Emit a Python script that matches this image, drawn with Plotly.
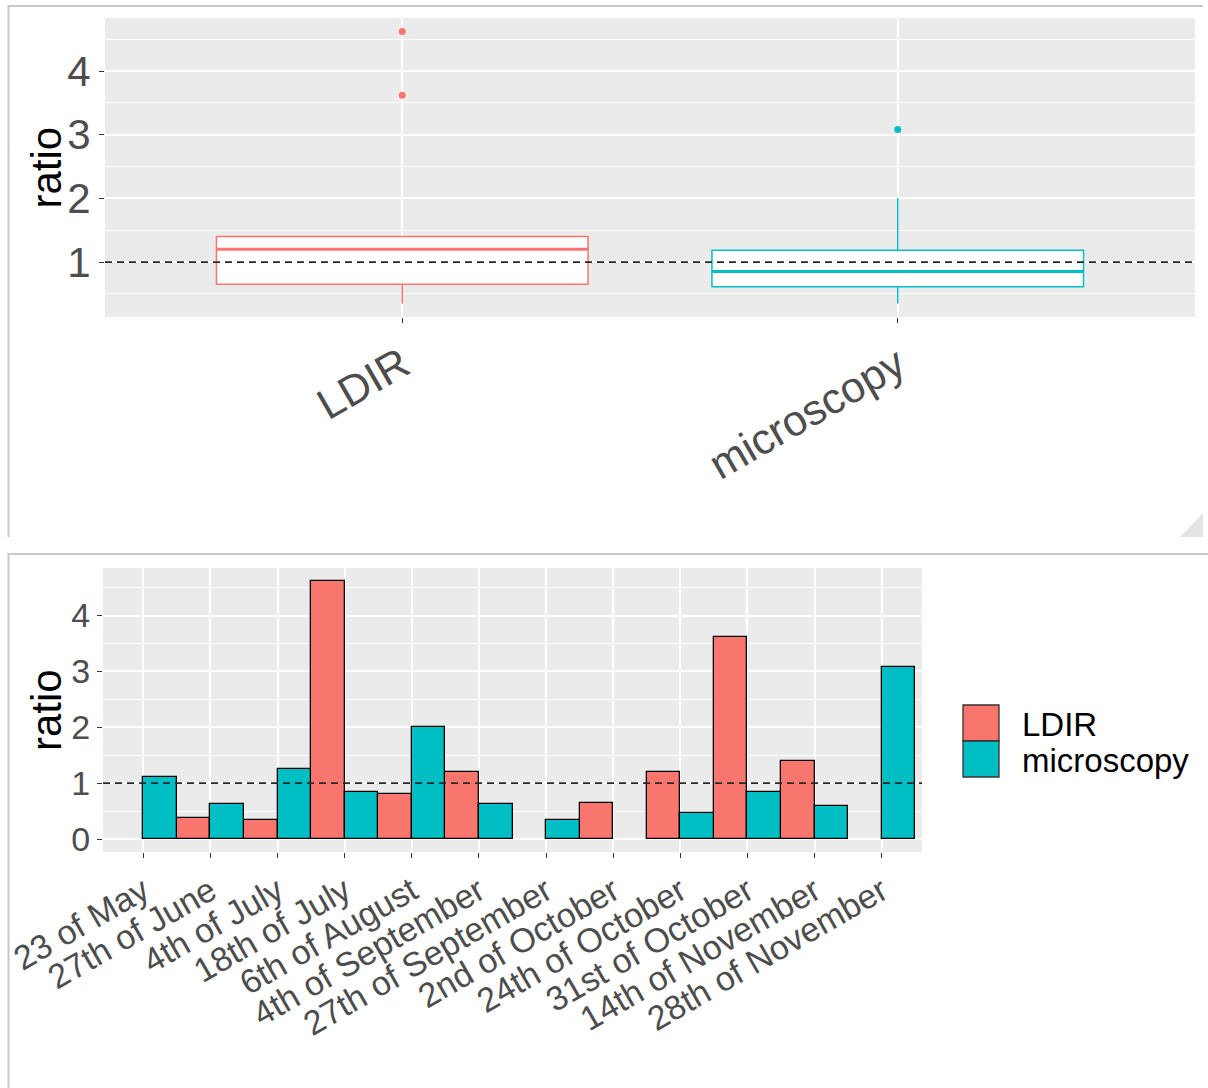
import numpy as np
import plotly.graph_objects as go

# ---- data -------------------------------------------------------------
dates = ["23 of May", "27th of June", "4th of July", "18th of July",
         "6th of August", "4th of September", "27th of September",
         "2nd of October", "24th of October", "31st of October",
         "14th of November", "28th of November"]
ldir = [None, 0.38, 0.35, 4.62, 0.80, 1.20, None, 0.65, 1.20, 3.62, 1.40, None]
microscopy = [1.12, 0.62, 1.25, 0.85, 2.00, 0.62, 0.35, None, 0.47, 0.85, 0.60, 3.08]
methods = ["LDIR", "microscopy"]
reference_ratio = 1

# ---- styling ----------------------------------------------------------
W, H = 1208, 1088
RED, TEAL = "#F8766D", "#00BFC4"
PANEL_BG = "#EBEBEB"
TICK_TXT = "#4D4D4D"
FONT = "Liberation Sans, Arial, sans-serif"


def px_x(p):
    return p / W


def px_y(p):
    return 1 - p / H


def expand(lo, hi, f=0.05):
    d = (hi - lo) * f
    return [lo - d, hi + d]


series = {"LDIR": [v for v in ldir if v is not None],
          "microscopy": [v for v in microscopy if v is not None]}
colors = {"LDIR": RED, "microscopy": TEAL}

fig = go.Figure()

# ---- top panel: box plots --------------------------------------------
for i, m in enumerate(methods):
    fig.add_trace(go.Box(
        y=series[m], x0=i, name=m, width=0.75,
        quartilemethod="inclusive", boxpoints="outliers",
        jitter=0, pointpos=0, whiskerwidth=0,
        fillcolor="white", line=dict(color=colors[m], width=1.5),
        marker=dict(color=colors[m], size=7, line=dict(width=0)),
        xaxis="x", yaxis="y", showlegend=False, hoverinfo="y"))
    # thicker median stroke, as in the usual box-plot look
    med = float(np.median(series[m]))
    fig.add_shape(type="line", xref="x", yref="y", x0=i - 0.375, x1=i + 0.375,
                  y0=med, y1=med, line=dict(color=colors[m], width=3), layer="above")

all_vals = series["LDIR"] + series["microscopy"]
top_range = expand(min(all_vals), max(all_vals))

# ---- bottom panel: grouped bars ---------------------------------------
for m, vals in (("LDIR", ldir), ("microscopy", microscopy)):
    fig.add_trace(go.Bar(
        x=dates, y=vals, name=m, marker=dict(color=colors[m], line=dict(color="black", width=1.3)),
        xaxis="x2", yaxis="y2", showlegend=False))

bot_range = expand(0, max(all_vals))

axis_common = dict(showline=False, zeroline=False, automargin=False,
                   gridcolor="white", ticks="outside", ticklen=5, tickwidth=1.2,
                   tickcolor="#333333")


def tfont(size):
    return dict(size=size, color=TICK_TXT, family=FONT)


fig.update_layout(
    width=W, height=H, margin=dict(l=0, r=0, t=0, b=0),
    paper_bgcolor="white", plot_bgcolor=PANEL_BG,
    font=dict(family=FONT), barmode="group", bargap=0, bargroupgap=0,
    boxmode="overlay",
    xaxis=dict(domain=[px_x(105), px_x(1195)], anchor="y", range=[-0.6, 1.6],
               tickmode="array", tickvals=[0, 1], ticktext=methods, tickangle=-30,
               showgrid=True, gridwidth=2, tickfont=tfont(43), **axis_common),
    yaxis=dict(domain=[px_y(317), px_y(18)], anchor="x", range=top_range,
               tickmode="linear", tick0=0, dtick=1, showgrid=True, gridwidth=2,
               minor=dict(dtick=0.5, tick0=0, showgrid=True, gridcolor="white", gridwidth=1),
               tickfont=tfont(42), **axis_common),
    xaxis2=dict(domain=[px_x(103), px_x(922)], anchor="y2", range=[-0.6, 11.6],
                type="category", tickangle=-30, showgrid=True, gridwidth=2,
                tickfont=tfont(34), **axis_common),
    yaxis2=dict(domain=[px_y(852), px_y(568)], anchor="x2", range=bot_range,
                tickmode="linear", tick0=0, dtick=1, showgrid=True, gridwidth=2,
                minor=dict(dtick=0.5, tick0=0, showgrid=True, gridcolor="white", gridwidth=1),
                tickfont=tfont(34), **axis_common),
)

# dashed reference line at ratio = 1 in both panels
for xr, yr in (("x domain", "y"), ("x2 domain", "y2")):
    fig.add_shape(type="line", xref=xr, yref=yr, x0=0, x1=1,
                  y0=reference_ratio, y1=reference_ratio,
                  line=dict(color="#2A2A2A", width=1.7, dash="7px,5px"), layer="above")

# y-axis titles
for yc in (167.5, 710):
    fig.add_annotation(text="ratio", xref="paper", yref="paper", x=px_x(46), y=px_y(yc),
                       xanchor="center", yanchor="middle", textangle=-90, showarrow=False,
                       font=dict(size=42, color="black", family=FONT))

# legend for the bar panel
key_x0, key_x1 = 963, 999
for j, m in enumerate(methods):
    ky0 = 705 + 36 * j
    fig.add_shape(type="rect", xref="paper", yref="paper",
                  x0=px_x(key_x0), x1=px_x(key_x1), y0=px_y(ky0 + 36), y1=px_y(ky0),
                  fillcolor=colors[m], line=dict(color="#333333", width=1.3))
    fig.add_annotation(text=m, xref="paper", yref="paper", x=px_x(1020), y=px_y(ky0 + 19),
                       xanchor="left", yanchor="middle", showarrow=False,
                       font=dict(size=33, color="black", family=FONT))

# pane frames around the two figures
frame = dict(color="#C8C8C8", width=2)
fig.add_shape(type="path", xref="paper", yref="paper",
              path=f"M {px_x(8.5)},{px_y(537)} L {px_x(8.5)},{px_y(6)} L {px_x(1203)},{px_y(6)}",
              line=frame)
fig.add_shape(type="path", xref="paper", yref="paper",
              path=f"M {px_x(8.5)},{px_y(1088)} L {px_x(8.5)},{px_y(554)} L {px_x(1208)},{px_y(554)}",
              line=frame)
# resize grip in the corner of the upper pane
fig.add_shape(type="path", xref="paper", yref="paper",
              path=f"M {px_x(1203)},{px_y(513)} L {px_x(1203)},{px_y(537)} L {px_x(1180)},{px_y(537)} Z",
              fillcolor="#E4E4E4", line=dict(width=0))

fig.write_html("out.html")
